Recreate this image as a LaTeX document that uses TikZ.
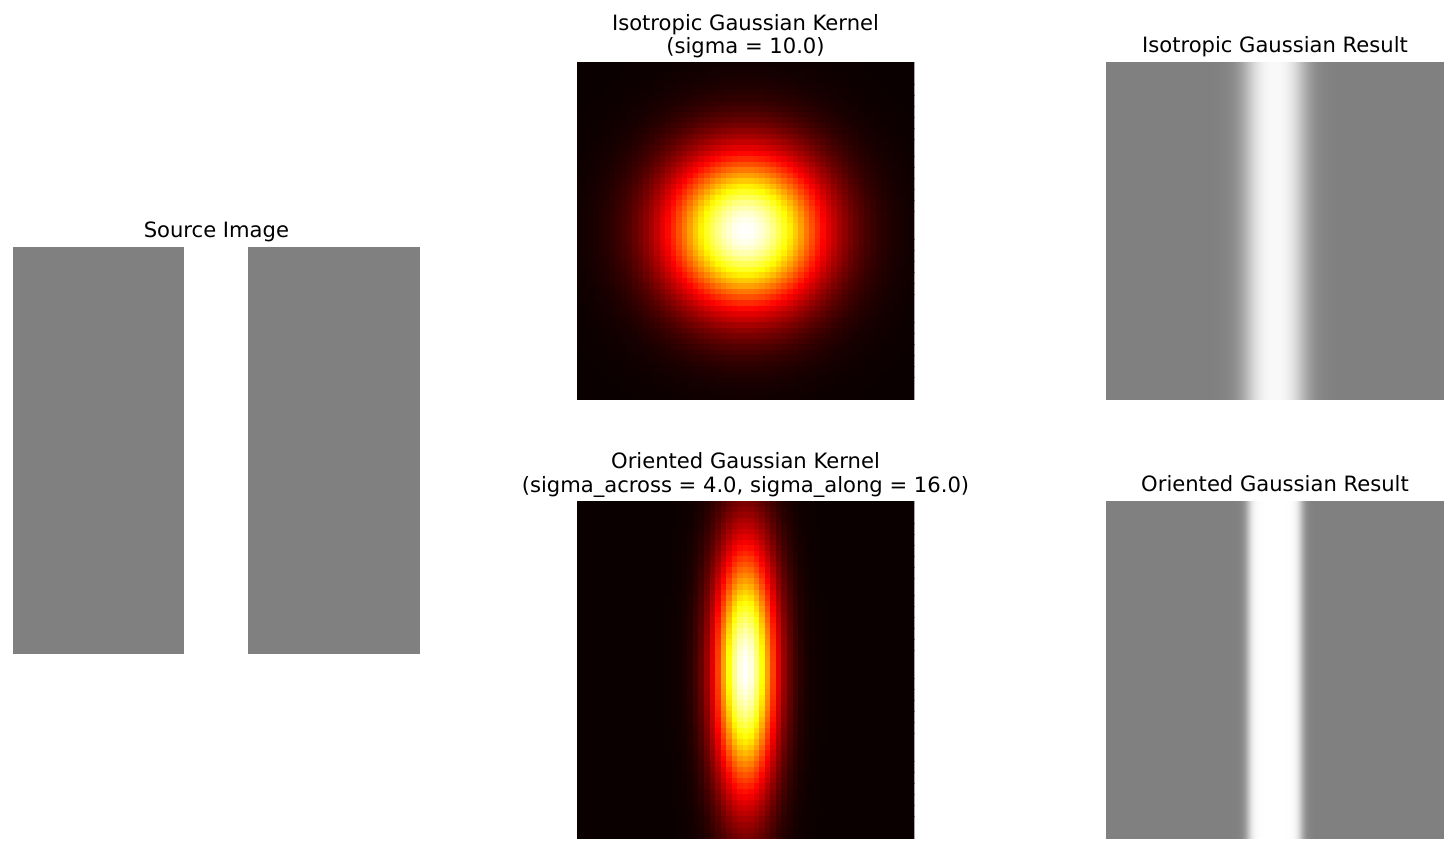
\documentclass[tikz,border=0pt]{standalone}
\usepackage{fontspec}
\setmainfont{DejaVu Sans}
\definecolor{srcgray}{gray}{0.5}
\newcommand{\drawkernel}[4]{%
  \begin{scope}
  \clip (#1,#2) rectangle ++(337.6,337.6);
  \foreach \i in {0,...,60}{%
    \pgfmathsetmacro\kgx{exp(max(-9,0-(\i-30)*(\i-30)/#3))}%
    \foreach \j in {0,...,60}{%
      \pgfmathsetmacro\kv{\kgx*exp(max(-9,0-(\j-30)*(\j-30)/#4))}%
      \pgfmathsetmacro\kr{min(1,0.0416+2.6252*\kv)}%
      \pgfmathsetmacro\kg{max(0,min(1,(\kv-0.365079)/0.380953))}%
      \pgfmathsetmacro\kb{max(0,min(1,(\kv-0.746032)/0.253968))}%
      \definecolor{kc}{rgb}{\kr,\kg,\kb}%
      \fill[kc] ({#1+\i*5.5344},{#2+\j*5.5344}) rectangle ++(5.95,5.95);%
    }%
  }%
  \end{scope}%
}
\newcommand{\drawresult}[4]{%
  \fill[srcgray] (1106,#1) rectangle ++(338,337.6);
  \foreach \x in {#2,...,#3}{%
    \pgfmathsetmacro\rv{min(1,0.5+0.5*(1/(1+exp(min(9,max(-9,-1.702*(\x+0.5-1248.4)/#4)))) - 1/(1+exp(min(9,max(-9,-1.702*(\x+0.5-1301.5)/#4))))))}%
    \definecolor{rc}{gray}{\rv}%
    \fill[rc] (\x,#1) rectangle ++(1.3,337.6);%
  }%
}
\begin{document}
\begin{tikzpicture}[x=1pt,y=-1pt,
  ttl/.style={font=\fontsize{21.1}{24}\selectfont, anchor=base, inner sep=0pt, text=black}]
\useasboundingbox[fill=white] (0,0) rectangle (1456,852);

% Source image
\fill[srcgray] (12.7,247.3) rectangle (184.3,653.7);
\fill[srcgray] (248.3,247.3) rectangle (420,653.7);
\node[ttl] (tsrc) at (216.4,237.3) {Source Image};

% Isotropic kernel
\drawkernel{576.7}{62.0}{200}{200}
\node[ttl] (tiso1) at (745.5,30.5) {Isotropic Gaussian Kernel};
\node[ttl] (tiso2) at (745.5,53.8) {(sigma = 10.0)};

% Oriented kernel
\drawkernel{576.7}{501.0}{32}{512}
\node[ttl] (tori1) at (745.5,468.8) {Oriented Gaussian Kernel};
\node[ttl] (tori2) at (745.5,492.0) {(sigma\_across = 4.0, sigma\_along = 16.0)};

% Results
\drawresult{62.0}{1200}{1350}{12}
\node[ttl] (tres1) at (1275,52.8) {Isotropic Gaussian Result};
\drawresult{501.0}{1225}{1325}{4.5}
\node[ttl] (tres2) at (1275,491.6) {Oriented Gaussian Result};
\end{tikzpicture}
\end{document}
